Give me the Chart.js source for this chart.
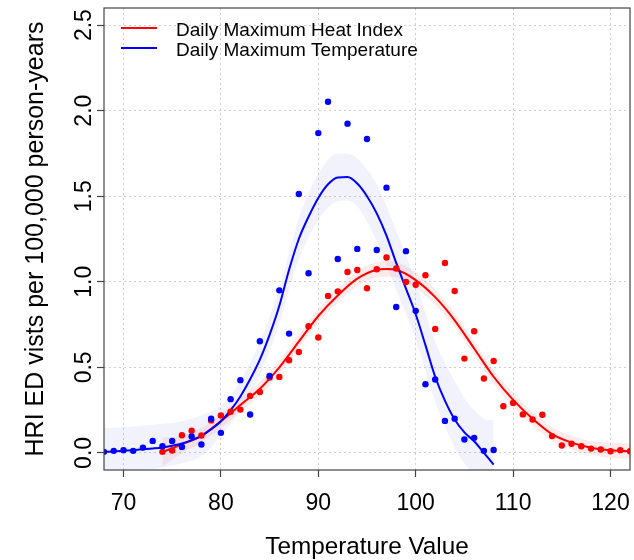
<!DOCTYPE html>
<html>
<head>
<meta charset="utf-8">
<script src="https://cdn.jsdelivr.net/npm/chart.js@4.4.0/dist/chart.umd.min.js"></script>
<style>
  html, body { margin: 0; padding: 0; background: #fff; }
  #wrap { width: 634px; height: 560px; }
</style>
</head>
<body>
<div id="wrap"><canvas id="myChart" width="634" height="560"></canvas></div>
<script>
// observed points, daily maximum temperature (blue)
const blueTemps = [68, 69, 70, 71, 72, 73, 74, 75, 76, 77, 78, 79, 80, 81, 82, 83, 84, 85, 86, 87, 88,
  89, 90, 91, 92, 93, 94, 95, 96, 97, 98, 99, 100, 101, 102, 103, 104, 105, 106, 107, 108];
const bluePoints = [0.006, 0.012, 0.016, 0.012, 0.031, 0.070, 0.039, 0.070, 0.035, 0.096, 0.049, 0.200,
  0.117, 0.314, 0.425, 0.224, 0.652, 0.450, 0.950, 0.697, 1.513, 1.050, 1.869, 2.052, 1.133, 1.924,
  1.192, 1.834, 1.186, 1.550, 0.853, 1.179, 0.830, 0.401, 0.429, 0.187, 0.200, 0.078, 0.088, 0.012, 0.017];
const blueFit = [0.005, 0.008, 0.012, 0.016, 0.021, 0.026, 0.032, 0.042, 0.055, 0.075, 0.100, 0.138,
  0.185, 0.250, 0.330, 0.430, 0.545, 0.690, 0.860, 1.070, 1.250, 1.380, 1.490, 1.570, 1.610, 1.612,
  1.574, 1.500, 1.400, 1.270, 1.110, 0.960, 0.810, 0.630, 0.445, 0.305, 0.195, 0.120, 0.068, 0.000, -0.068];

// confidence band, temperature
const blueBandTemps = [68, 70, 72, 74, 76, 78, 80, 82, 84, 86, 88, 90, 92, 93, 94, 96, 98, 100, 102, 104, 105, 106, 107, 108];
const blueHi = [0.145, 0.150, 0.160, 0.170, 0.185, 0.220, 0.275, 0.420, 0.650, 0.960, 1.370, 1.630,
  1.750, 1.750, 1.720, 1.570, 1.300, 1.000, 0.650, 0.420, 0.320, 0.250, 0.200, 0.190];
const blueLo = [-0.130, -0.115, -0.100, -0.085, -0.060, -0.020, 0.100, 0.250, 0.450, 0.760, 1.130, 1.360,
  1.470, 1.475, 1.440, 1.240, 0.950, 0.660, 0.300, 0.030, -0.060, -0.130, -0.200, -0.280];

// observed points, daily maximum heat index (red)
const redTemps = [74, 75, 76, 77, 78, 79, 80, 81, 82, 83, 84, 85, 86, 87, 88, 89, 90, 91, 92, 93, 94,
  95, 96, 97, 98, 99, 100, 101, 102, 103, 104, 105, 106, 107, 108, 109, 110, 111, 112, 113, 114, 115,
  116, 117, 118, 119, 120, 121, 122];
const redPoints = [0.006, 0.014, 0.103, 0.130, 0.102, 0.190, 0.219, 0.240, 0.253, 0.333, 0.356, 0.440,
  0.444, 0.541, 0.590, 0.740, 0.674, 0.917, 0.944, 1.057, 1.069, 0.962, 1.073, 1.142, 1.078, 0.999,
  0.983, 1.038, 0.724, 1.110, 0.946, 0.551, 0.711, 0.435, 0.537, 0.273, 0.292, 0.225, 0.195, 0.223,
  0.098, 0.043, 0.053, 0.039, 0.025, 0.020, 0.010, 0.016, 0.010];

// fitted curve and band, heat index
const redFitTemps = [74, 76, 78, 80, 82, 84, 86, 88, 90, 92, 94, 96, 97, 98, 100, 102, 104, 106, 108,
  110, 112, 114, 116, 118, 120, 122];
const redFit = [0.005, 0.050, 0.100, 0.185, 0.280, 0.375, 0.500, 0.650, 0.800, 0.920, 1.018, 1.070,
  1.075, 1.070, 1.010, 0.910, 0.775, 0.610, 0.445, 0.310, 0.200, 0.110, 0.060, 0.030, 0.015, 0.010];
const redHi = [0.090, 0.100, 0.145, 0.225, 0.320, 0.415, 0.540, 0.690, 0.840, 0.960, 1.060, 1.115,
  1.120, 1.115, 1.055, 0.955, 0.815, 0.650, 0.485, 0.350, 0.240, 0.150, 0.100, 0.070, 0.060, 0.055];
const redLo = [-0.080, 0.000, 0.060, 0.145, 0.240, 0.335, 0.460, 0.610, 0.760, 0.880, 0.975, 1.025,
  1.030, 1.025, 0.965, 0.865, 0.735, 0.570, 0.405, 0.270, 0.160, 0.070, 0.020, -0.010, -0.030, -0.035];

const xTicks = [70, 80, 90, 100, 110, 120];
const yTicks = [0, 0.5, 1, 1.5, 2, 2.5];
const legendLabels = ['Daily Maximum Heat Index', 'Daily Maximum Temperature'];
const xTitle = 'Temperature Value';
const yTitle = 'HRI ED vists per 100,000 person-years';

const RED = '#FF0000';
const BLUE = '#0000FF';
const FONT = '"Liberation Sans", Arial, sans-serif';

function pts(xs, ys) {
  return xs.map((t, i) => ({ x: t, y: ys[i] }));
}

// frame, axis labels, legend
const frameAndText = {
  id: 'frameAndText',
  afterDraw(chart) {
    const { ctx, chartArea: a, scales: { x, y } } = chart;
    ctx.save();
    ctx.strokeStyle = '#444';
    ctx.lineWidth = 1.2;
    ctx.strokeRect(a.left, a.top, a.right - a.left, a.bottom - a.top);

    ctx.fillStyle = '#000';
    ctx.font = '23px ' + FONT;
    ctx.textAlign = 'center';
    ctx.textBaseline = 'alphabetic';
    xTicks.forEach(v => ctx.fillText(String(v), x.getPixelForValue(v), 510));
    yTicks.forEach(v => {
      ctx.save();
      ctx.translate(91, y.getPixelForValue(v));
      ctx.rotate(-Math.PI / 2);
      ctx.fillText(v.toFixed(1), 0, 0);
      ctx.restore();
    });

    ctx.font = '24.3px ' + FONT;
    ctx.fillText(xTitle, (a.left + a.right) / 2, 554);
    ctx.save();
    ctx.font = '25px ' + FONT;
    ctx.translate(43, (a.top + a.bottom) / 2);
    ctx.rotate(-Math.PI / 2);
    ctx.fillText(yTitle, 0, 0);
    ctx.restore();

    // legend
    ctx.lineWidth = 2.2;
    [[RED, 28, 36], [BLUE, 48, 56]].forEach(([c, ly, ty], i) => {
      ctx.strokeStyle = c;
      ctx.beginPath();
      ctx.moveTo(121, ly);
      ctx.lineTo(157, ly);
      ctx.stroke();
      ctx.font = '19px ' + FONT;
      ctx.textAlign = 'left';
      ctx.fillText(legendLabels[i], 176, ty);
    });
    ctx.restore();
  }
};

const bandStyle = (color) => ({
  showLine: true,
  pointRadius: 0,
  borderWidth: 1,
  borderColor: 'rgba(0,0,0,0)',
  backgroundColor: color,
  cubicInterpolationMode: 'monotone'
});

const datasets = [
  { data: pts(blueTemps, bluePoints), backgroundColor: BLUE, pointRadius: 3.2, pointBorderWidth: 0, borderWidth: 0, order: 0 },
  { data: pts(redTemps, redPoints), backgroundColor: RED, pointRadius: 3.2, pointBorderWidth: 0, borderWidth: 0, order: 1 },
  { data: pts(blueTemps, blueFit), showLine: true, pointRadius: 0, borderColor: BLUE, borderWidth: 2, cubicInterpolationMode: 'monotone', order: 2 },
  { data: pts(redFitTemps, redFit), showLine: true, pointRadius: 0, borderColor: RED, borderWidth: 2, cubicInterpolationMode: 'monotone', order: 3 },
  Object.assign({ data: pts(blueBandTemps, blueHi), fill: '+1', order: 4 }, bandStyle('rgba(120,130,230,0.1)')),
  Object.assign({ data: pts(blueBandTemps, blueLo), fill: false, order: 5 }, bandStyle('rgba(120,130,230,0.1)')),
  Object.assign({ data: pts(redFitTemps, redHi), fill: '+1', order: 6 }, bandStyle('rgba(240,60,60,0.1)')),
  Object.assign({ data: pts(redFitTemps, redLo), fill: false, order: 7 }, bandStyle('rgba(240,60,60,0.1)'))
];

const gridOpts = {
  color: 'rgba(190,190,190,0.75)',
  lineWidth: 1,
  drawTicks: true,
  tickLength: 7,
  tickColor: '#444',
  tickWidth: 1.2
};

new Chart(document.getElementById('myChart').getContext('2d'), {
  type: 'scatter',
  data: { datasets },
  options: {
    responsive: false,
    animation: false,
    devicePixelRatio: 1,
    layout: { padding: { top: 8, right: 4, left: 0, bottom: 0 } },
    plugins: { legend: { display: false }, tooltip: { enabled: false } },
    scales: {
      x: {
        type: 'linear', min: 68, max: 122,
        afterBuildTicks: s => { s.ticks = xTicks.map(v => ({ value: v })); },
        afterFit: s => { s.height = 90; },
        ticks: { display: false },
        grid: gridOpts,
        border: { display: false, dash: [2, 3] }
      },
      y: {
        type: 'linear', min: -0.1, max: 2.6,
        afterBuildTicks: s => { s.ticks = yTicks.map(v => ({ value: v })); },
        afterFit: s => { s.width = 104; },
        ticks: { display: false },
        grid: gridOpts,
        border: { display: false, dash: [2, 3] }
      }
    }
  },
  plugins: [frameAndText]
});
</script>
</body>
</html>
